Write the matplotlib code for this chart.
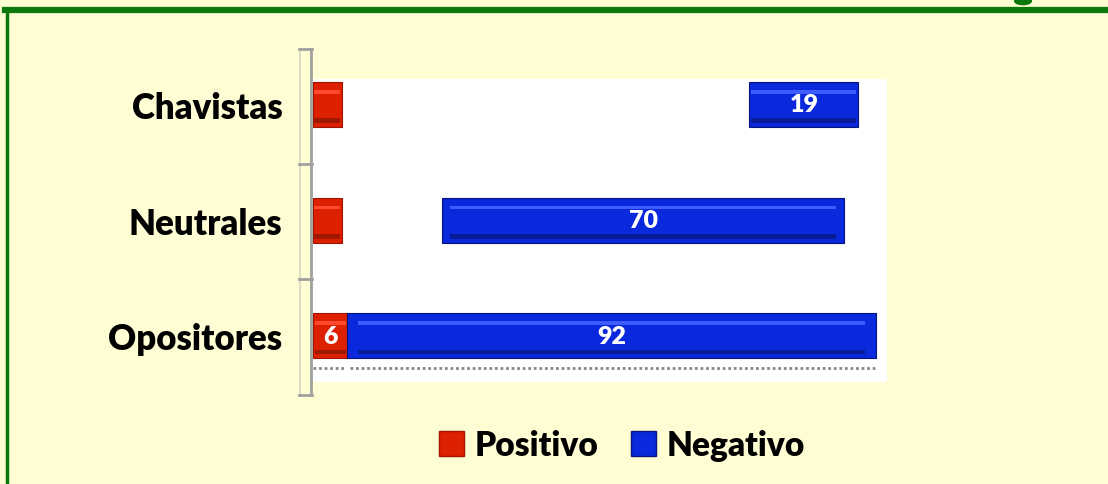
import numpy as np
import matplotlib.pyplot as plt
from matplotlib.lines import Line2D
from matplotlib.patches import Circle, Patch

categories = ['Chavistas', 'Neutrales', 'Opositores']
positivo = [5, 5, 6]
hueco = [71, 17.5, 0]          # segmento oculto entre las barras
negativo = [19, 70, 92]
pos_labels = ['', '', '6']
neg_labels = ['19', '70', '92']

bg = '#FFFDD3'
red = '#DD2000'
blue = '#0A28DC'
green = '#0A780A'

plt.rcParams['font.family'] = ['Lato', 'DejaVu Sans']

W, H = 1108, 485
fig = plt.figure(figsize=(W / 100, H / 100), dpi=100)
fig.patch.set_facecolor(bg)

def fx(px):
    return px / W

def fy(py):
    return 1 - py / H

# green frame
fig.add_artist(Line2D([fx(7), fx(7)], [fy(10), 0], color=green, lw=2.5))
fig.add_artist(Line2D([fx(5), 1], [fy(10.5), fy(10.5)], color=green, lw=4.5))
fig.add_artist(Circle((fx(1023), fy(2)), 0.0075, transform=fig.transFigure,
                      color=green, clip_on=False))

ax = fig.add_axes([fx(313), fy(383), fx(887) - fx(313), fy(80) - fy(383)])
ax.set_facecolor('white')

y = np.arange(len(categories))[::-1]
h = 0.39
left_neg = np.array(positivo, dtype=float) + np.array(hueco)

ax.barh(y, positivo, height=h, color=red, edgecolor='#9E1500', lw=0.8)
ax.barh(y, negativo, left=left_neg, height=h, color=blue, edgecolor='#05157A', lw=0.8)

# bevel highlight
for yi, p, ln, n in zip(y, positivo, left_neg, negativo):
    ax.barh(yi + h * 0.28, p * 0.9, left=p * 0.05, height=h * 0.08, color='#FF4A30', lw=0)
    ax.barh(yi + h * 0.28, n * 0.96, left=ln + n * 0.02, height=h * 0.08, color='#3E5CFF', lw=0)
    ax.barh(yi - h * 0.36, p * 0.9, left=p * 0.05, height=h * 0.1, color='#A01800', lw=0)
    ax.barh(yi - h * 0.36, n * 0.96, left=ln + n * 0.02, height=h * 0.1, color='#081C9A', lw=0)

for yi, p, lbl in zip(y, positivo, pos_labels):
    if lbl:
        ax.text(p / 2, yi, lbl, ha='center', va='center', color='white',
                fontsize=18, fontweight='heavy')
for yi, ln, n, lbl in zip(y, left_neg, negativo, neg_labels):
    ax.text(ln + n / 2, yi, lbl, ha='center', va='center', color='white',
            fontsize=18, fontweight='heavy')

ax.set_xlim(0, 100)
ax.set_ylim(-0.40, 2.22)
ax.set_yticks(y)
ax.set_yticklabels(categories, fontsize=25, fontweight='heavy')
ax.tick_params(axis='y', length=0, pad=22)
ax.set_xticks([])
for s in ax.spines.values():
    s.set_visible(False)

# dotted floor under the bars
ax.plot([0, 5.5], [-0.28, -0.28], color='#888888', lw=2, ls=(0, (1, 1)))
ax.plot([6.5, 98], [-0.28, -0.28], color='#888888', lw=2, ls=(0, (1, 1)))

# 3d-like axis wall
fig.add_artist(Line2D([fx(311), fx(311)], [fy(50), fy(396)], color='#A0A0A0', lw=2))
fig.add_artist(Line2D([fx(300), fx(300)], [fy(50), fy(396)], color='#D8D8C0', lw=1.2))
for ty in [50, 165, 280, 396]:
    fig.add_artist(Line2D([fx(299), fx(312)], [fy(ty), fy(ty)], color='#A0A0A0', lw=2))

handles = [Patch(facecolor=red, edgecolor='#9E1500'),
           Patch(facecolor=blue, edgecolor='#05157A')]
fig.legend(handles, ['Positivo', 'Negativo'], loc='center',
           bbox_to_anchor=(fx(622), fy(446)), ncol=2, frameon=False,
           prop={'size': 24, 'weight': 'heavy'}, handlelength=0.75,
           handleheight=0.8, handletextpad=0.3, columnspacing=1.0)

fig.savefig('out.png', dpi=100, facecolor=bg)
